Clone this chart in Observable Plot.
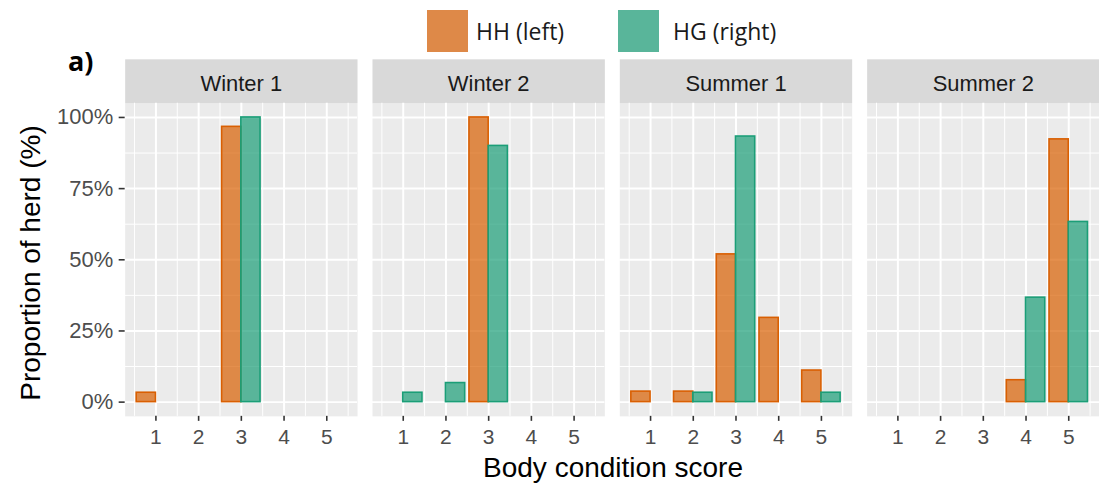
<!DOCTYPE html>
<html>
<head>
<meta charset="utf-8">
<script src="https://cdn.jsdelivr.net/npm/d3@7"></script>
<script src="https://cdn.jsdelivr.net/npm/@observablehq/plot@0.6"></script>
<style>
  html, body { margin: 0; padding: 0; background: #fff; overflow: hidden; }
  #wrap { position: relative; width: 1099px; height: 487px; overflow: hidden; font-family: "Liberation Sans", Arial, sans-serif; }
  #chart { position: absolute; left: 0; top: 0; }
  .key { position: absolute; top: 10px; width: 41px; height: 42px; }
  .ltext { position: absolute; top: 15px; font-family: "Open Sans", "Noto Sans", sans-serif; font-size: 23px; color: #1a1a1a; line-height: 32px; }
  #tag { position: absolute; left: 68px; top: 43px; font-family: "Open Sans", "Noto Sans", sans-serif; font-weight: 700; font-size: 27px; color: #000; line-height: 36px; }
  #ytitle { position: absolute; left: 31px; top: 263px; transform: translate(-50%, -50%) rotate(-90deg); white-space: nowrap; font-size: 28px; color: #000; }
  #xtitle { position: absolute; left: 613px; top: 468px; transform: translate(-50%, -50%); white-space: nowrap; font-size: 28px; color: #000; }
</style>
</head>
<body>
<div id="wrap">
  <div id="chart"></div>
  <div class="key" style="left:427px;background:#DE8948;"></div>
  <div class="ltext" style="left:476px;">HH (left)</div>
  <div class="key" style="left:618px;background:#59B59A;"></div>
  <div class="ltext" style="left:673px;">HG (right)</div>
  <div id="tag">a)</div>
  <div id="ytitle">Proportion of herd (%)</div>
  <div id="xtitle">Body condition score</div>
</div>
<script>
// ---- data ----
const seasons = ["Winter 1", "Winter 2", "Summer 1", "Summer 2"];
const groups = ["HH", "HG"];
const scores = [1, 2, 3, 4, 5];
const yTicks = [0, 25, 50, 75, 100];
// proportion (%) of herd at each body condition score 1..5
const hhWinter1 = [3.3, 0, 96.7, 0, 0];
const hgWinter1 = [0, 0, 100, 0, 0];
const hhWinter2 = [0, 0, 100, 0, 0];
const hgWinter2 = [3.3, 6.7, 90, 0, 0];
const hhSummer1 = [3.7, 3.7, 51.9, 29.6, 11.1];
const hgSummer1 = [0, 3.3, 93.3, 0, 3.3];
const hhSummer2 = [0, 0, 0, 7.7, 92.3];
const hgSummer2 = [0, 0, 0, 36.7, 63.3];

const series = [
  ["Winter 1", "HH", hhWinter1], ["Winter 1", "HG", hgWinter1],
  ["Winter 2", "HH", hhWinter2], ["Winter 2", "HG", hgWinter2],
  ["Summer 1", "HH", hhSummer1], ["Summer 1", "HG", hgSummer1],
  ["Summer 2", "HH", hhSummer2], ["Summer 2", "HG", hgSummer2]
];
const data = [];
for (const [season, group, vals] of series) {
  vals.forEach((v, i) => { if (v > 0) data.push({season, group, score: scores[i], value: v}); });
}

const W = 1102, H = 487, MT = 103, MB = 70;
const panelH = H - MT - MB;

const plot = Plot.plot({
  width: W,
  height: H,
  marginTop: MT,
  marginBottom: MB,
  marginLeft: 124,
  marginRight: 0,
  style: {fontFamily: "'Liberation Sans', Arial, sans-serif", background: "transparent"},
  fx: {domain: seasons, paddingInner: 0.062, paddingOuter: 0, label: null},
  x: {domain: [0.28, 5.72]},
  y: {domain: [-5, 105]},
  color: {domain: groups, range: ["#D95F02", "#1B9E77"]},
  marks: [
    Plot.frame({fill: "#EBEBEB"}),
    Plot.frame({fill: "#D9D9D9", insetTop: -44, insetBottom: panelH}),
    Plot.gridY([12.5, 37.5, 62.5, 87.5], {stroke: "#fff", strokeOpacity: 1, strokeWidth: 1}),
    Plot.gridX([0.5, 1.5, 2.5, 3.5, 4.5, 5.5], {stroke: "#fff", strokeOpacity: 1, strokeWidth: 1}),
    Plot.gridY(yTicks, {stroke: "#fff", strokeOpacity: 1, strokeWidth: 2}),
    Plot.gridX(scores, {stroke: "#fff", strokeOpacity: 1, strokeWidth: 2}),
    Plot.rect(data, {
      fx: "season",
      x1: d => d.group === "HH" ? d.score - 0.45 : d.score,
      x2: d => d.group === "HH" ? d.score : d.score + 0.45,
      y1: 0,
      y2: "value",
      fill: "group",
      fillOpacity: 0.7,
      stroke: "group",
      strokeWidth: 1.6
    }),
    Plot.axisY(yTicks, {tickFormat: d => d + "%", tickSize: 6, tickPadding: 6, fontSize: 22, stroke: "#333", strokeWidth: 1.6, fill: "#4D4D4D", label: null}),
    Plot.axisX(scores, {tickSize: 5, tickPadding: 8, fontSize: 21, stroke: "#333", strokeWidth: 1.6, fill: "#4D4D4D", label: null}),
    Plot.axisFx({anchor: "top", tickSize: 0, tickPadding: 12, fontSize: 22, fill: "#1A1A1A", label: null})
  ]
});
document.getElementById("chart").appendChild(plot);
</script>
</body>
</html>
